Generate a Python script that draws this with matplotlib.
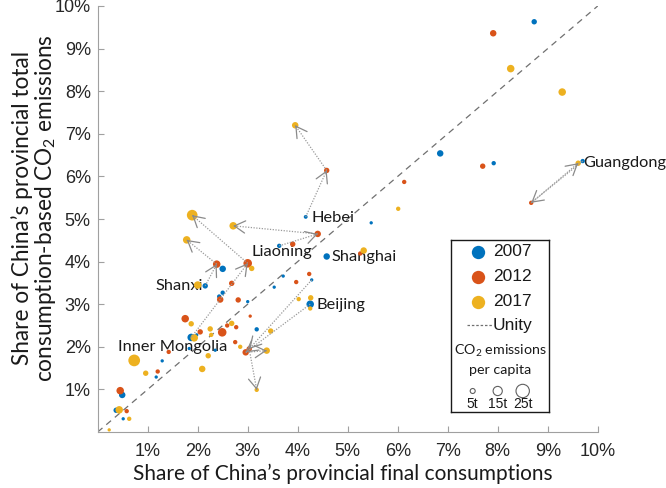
import matplotlib
matplotlib.use("Agg")
import matplotlib.pyplot as plt
import numpy as np

# share of China's final consumption (%), share of consumption-based CO2 (%),
# CO2 emissions per capita (t). First 8 entries of each year are the tracked
# provinces: Guangdong, Hebei, Liaoning, Shanxi, Inner Mongolia, Beijing, Tianjin, Shanghai
x07 = [9.70, 4.16, 3.63, 2.15, 1.87, 4.25, 4.28, 4.58,
       8.73, 6.85, 7.92, 5.47, 2.50, 2.50, 2.43, 3.00, 3.71, 3.53, 3.18,
       1.98, 1.29, 1.17, 1.83, 2.35, 0.49, 0.37, 0.51]
y07 = [6.36, 5.05, 4.37, 3.43, 2.22, 3.00, 3.57, 4.12,
       9.63, 6.54, 6.31, 4.91, 3.83, 3.27, 3.18, 3.06, 3.66, 3.40, 2.41,
       2.28, 1.67, 1.29, 1.96, 1.92, 0.87, 0.51, 0.31]
t07 = [3.5, 2.3, 3.5, 6.0, 11.0, 11.0, 1.0, 8.5,
       6.0, 8.5, 3.5, 1.0, 8.5, 3.5, 3.5, 1.0, 1.0, 1.0, 3.5,
       1.0, 1.0, 1.0, 1.0, 1.0, 8.5, 6.0, 1.0]

x12 = [8.67, 4.58, 4.40, 2.38, 3.00, 2.96, 3.03, 5.25,
       7.91, 7.70, 6.13, 3.90, 4.23, 2.68, 2.45, 2.81, 3.97, 3.05, 1.75,
       2.05, 2.49, 2.59, 2.77, 2.75, 1.42, 1.20, 0.45, 0.58]
y12 = [5.38, 6.14, 4.65, 3.94, 3.96, 1.87, 1.95, 4.19,
       9.36, 6.24, 5.87, 4.41, 3.71, 3.49, 3.11, 3.10, 3.52, 2.72, 2.66,
       2.35, 2.34, 2.50, 2.46, 2.11, 1.88, 1.42, 0.97, 0.49]
t12 = [3.5, 6.0, 8.5, 11.0, 13.5, 8.5, 6.0, 3.5,
       8.5, 6.0, 3.5, 6.0, 3.5, 6.0, 8.5, 6.0, 3.5, 1.0, 11.0,
       6.0, 13.5, 3.5, 3.5, 3.5, 3.5, 3.5, 11.0, 3.5]

x17 = [9.61, 3.95, 2.71, 1.78, 1.89, 3.38, 3.18, 5.32,
       8.26, 9.29, 6.01, 3.08, 2.00, 4.26, 4.25, 4.02, 3.46, 1.87, 1.93,
       2.25, 2.27, 2.68, 2.85, 2.21, 2.09, 0.96, 0.73, 0.43, 0.63, 0.23]
y17 = [6.31, 7.20, 4.84, 4.51, 5.09, 1.91, 0.99, 4.26,
       8.53, 7.98, 5.24, 3.84, 3.45, 3.15, 2.90, 3.12, 2.37, 2.54, 2.21,
       2.42, 2.28, 2.55, 2.00, 1.79, 1.48, 1.38, 1.68, 0.52, 0.31, 0.05]
t17 = [6.0, 8.5, 11.0, 11.0, 18.5, 8.5, 3.5, 8.5,
       11.0, 11.0, 3.5, 6.0, 11.0, 6.0, 3.5, 3.5, 6.0, 6.0, 11.0,
       6.0, 3.5, 6.0, 3.5, 6.0, 8.5, 6.0, 21.0, 11.0, 3.5, 1.0]

n_tracked = 7  # provinces with trajectory arrows

labels = [("Guangdong", 9.72, 6.31), ("Hebei", 4.28, 5.02),
          ("Liaoning", 3.08, 4.22), ("Shanghai", 4.68, 4.10),
          ("Shanxi", 1.16, 3.43), ("Beijing", 4.38, 2.98),
          ("Inner Mongolia", 0.41, 1.99)]

years = ["2007", "2012", "2017"]
colors = ["#0072BD", "#D95319", "#EDB120"]
legend_sizes = [5, 15, 25]
ticks = list(range(1, 11))

DPI = 100
plt.rcParams["mathtext.fontset"] = "custom"
plt.rcParams["mathtext.rm"] = "Lato"
plt.rcParams["mathtext.it"] = "Lato:italic"
plt.rcParams["mathtext.bf"] = "Lato:bold"


def diam_px(t):
    return 2.9 + 0.42 * np.asarray(t, dtype=float)


def area(t):
    return (diam_px(t) * 72 / DPI) ** 2


fig = plt.figure(figsize=(6.66, 4.88), dpi=DPI)
ax = fig.add_axes([97.7 / 666, 56 / 488, 500 / 666, 426 / 488])

ax.plot([0, 10], [0, 10], ls=(0, (5, 4)), color="#707070", lw=0.9, zorder=1)

series = [(x07, y07, t07), (x12, y12, t12), (x17, y17, t17)]
for (xs, ys, ts), c in zip(series, colors):
    ax.scatter(xs, ys, s=area(ts), color=c, edgecolors="none", zorder=3)

# trajectories 2007 -> 2012 -> 2017
for i in range(n_tracked):
    pts = [(x07[i], y07[i]), (x12[i], y12[i]), (x17[i], y17[i])]
    for (xa, ya), (xb, yb) in zip(pts[:-1], pts[1:]):
        ax.plot([xa, xb], [ya, yb], ls=(0, (1, 1.2)), color="#9a9a9a", lw=0.9, zorder=4)
        ax.annotate("", xy=(xb, yb), xytext=(xb - 0.02 * (xb - xa), yb - 0.02 * (yb - ya)),
                    arrowprops=dict(arrowstyle="->,head_length=0.7,head_width=0.4",
                                    color="#8a8a8a", lw=0.9, shrinkA=0, shrinkB=2,
                                    mutation_scale=11),
                    zorder=5)

for name, lx, ly in labels:
    ax.text(lx, ly, name, fontsize=11.8, family="Lato", va="center", ha="left",
            color="#1a1a1a", zorder=2)

ax.set_xlim(0, 10)
ax.set_ylim(0, 10)
ax.set_xticks(ticks)
ax.set_yticks(ticks)
ax.set_xticklabels([f"{v}%" for v in ticks], family="Liberation Sans", fontsize=13)
ax.set_yticklabels([f"{v}%" for v in ticks], family="Liberation Sans", fontsize=13)
ax.tick_params(direction="in", length=4, color="#a0a0a0", labelcolor="#262626")
ax.tick_params(axis="x", pad=8)
ax.tick_params(axis="y", pad=5)
for side in ["top", "right"]:
    ax.spines[side].set_visible(False)
for side in ["left", "bottom"]:
    ax.spines[side].set_color("#a0a0a0")

ax.set_xlabel("Share of China\u2019s provincial final consumptions",
              family="Lato", fontsize=15, color="#1a1a1a")
ax.xaxis.set_label_coords(0.49, -0.075)
ax.set_ylabel("Share of China\u2019s provincial total\nconsumption-based CO$_2$ emissions",
              family="Lato", fontsize=16.3, color="#1a1a1a", linespacing=1.0)
ax.yaxis.set_label_coords(-0.08, 0.525)

# legend box
lg = fig.add_axes([451 / 666, 1 - 412 / 488, 98 / 666, 172 / 488])
lg.set_xlim(0, 98)
lg.set_ylim(172, 0)
lg.set_xticks([])
lg.set_yticks([])
for sp in lg.spines.values():
    sp.set_color("#1a1a1a")
    sp.set_linewidth(1.0)

for k, (yr, c) in enumerate(zip(years, colors)):
    yy = 11.7 + 25 * k
    lg.plot([27.3], [yy], "o", color=c, markersize=9.6, markeredgewidth=0)
    lg.text(42, yy, yr, family="Liberation Sans", fontsize=12.5, va="center", color="#1a1a1a")
lg.plot([15.7, 40.7], [85, 85], ls=(0, (2, 1.5)), color="#707070", lw=0.9)
lg.text(42, 85, "Unity", family="Liberation Sans", fontsize=12.5, va="center", color="#1a1a1a")
lg.text(49, 111, "CO$_2$ emissions", family="Lato", fontsize=10.3, ha="center", va="center",
        color="#1a1a1a")
lg.text(49, 130, "per capita", family="Lato", fontsize=10.3, ha="center", va="center",
        color="#1a1a1a")
for k, t in enumerate(legend_sizes):
    xx = 21.7 + 25 * k
    lg.scatter([xx], [151], s=area(t), facecolors="none", edgecolors="#606060", linewidths=0.8)
    lg.text(xx, 163.5, f"{t}t", family="Liberation Sans", fontsize=10, ha="center",
            va="center", color="#1a1a1a")

fig.savefig("out.png", dpi=DPI)
